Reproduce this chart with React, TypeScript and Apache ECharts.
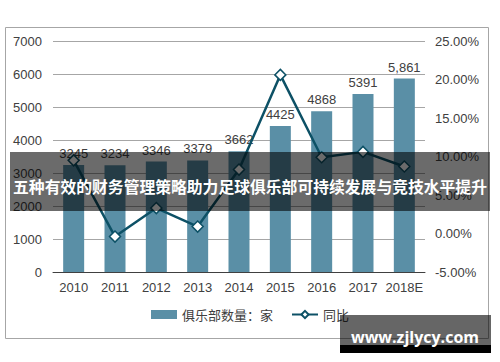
import React, { useEffect, useRef } from "react";
import * as echarts from "echarts";

const categories = ["2010", "2011", "2012", "2013", "2014", "2015", "2016", "2017", "2018E"];
const clubCounts = [3245, 3234, 3346, 3379, 3662, 4425, 4868, 5391, 5861];
const countLabels = ["3245", "3234", "3346", "3379", "3662", "4425", "4868", "5391", "5,861"];
const growthPct = [9.5, -0.4, 3.3, 0.9, 8.3, 20.6, 9.9, 10.6, 8.7];
const barName = "俱乐部数量：家";
const lineName = "同比";
const bannerText = "五种有效的财务管理策略助力足球俱乐部可持续发展与竞技水平提升";
const watermark = "www.zjlycy.com";

const latin = "'Liberation Sans', Arial, 'Noto Sans CJK SC', sans-serif";
const cjk = "'Noto Sans CJK SC', 'Liberation Sans', sans-serif";

export default function App() {
  const ref = useRef<HTMLDivElement>(null);
  useEffect(() => {
    if (!ref.current) return;
    const chart = echarts.init(ref.current, null, { renderer: "svg" });
    chart.setOption({
      animation: false,
      backgroundColor: "#ffffff",
      grid: { left: 53, right: 75, top: 41, bottom: 90 },
      legend: {
        bottom: 36,
        left: "center",
        itemWidth: 26,
        itemHeight: 9,
        itemGap: 18,
        textStyle: { fontFamily: cjk, fontSize: 13, color: "#404040" },
        data: [
          { name: barName, icon: "rect" },
          { name: lineName },
        ],
      },
      xAxis: {
        type: "category",
        data: categories,
        axisLine: { lineStyle: { color: "#404040", width: 1 } },
        axisTick: { show: false },
        axisLabel: { fontFamily: latin, fontSize: 13, color: "#404040", margin: 9, interval: 0 },
      },
      yAxis: [
        {
          type: "value",
          min: 0,
          max: 7000,
          interval: 1000,
          axisLine: { show: false },
          axisTick: { show: false },
          splitLine: { lineStyle: { color: "#a6a6a6", width: 1 } },
          axisLabel: {
            fontFamily: latin,
            fontSize: 13,
            color: "#404040",
            margin: 11,
            formatter: (v: number) => String(v),
          },
        },
        {
          type: "value",
          min: -5,
          max: 25,
          interval: 5,
          axisLine: { show: false },
          axisTick: { show: false },
          splitLine: { show: false },
          axisLabel: {
            fontFamily: latin,
            fontSize: 13,
            color: "#404040",
            margin: 10,
            formatter: (v: number) => v.toFixed(2) + "%",
          },
        },
      ],
      series: [
        {
          name: barName,
          type: "bar",
          data: clubCounts,
          barWidth: 21,
          itemStyle: { color: "#5a8fa6" },
          label: {
            show: true,
            position: "top",
            distance: 5,
            fontFamily: latin,
            fontSize: 13,
            color: "#404040",
            formatter: (p: any) => countLabels[p.dataIndex],
          },
          z: 2,
        },
        {
          name: lineName,
          type: "line",
          yAxisIndex: 1,
          data: growthPct,
          symbol: "diamond",
          symbolSize: 11,
          showAllSymbol: true,
          lineStyle: { color: "#0d5166", width: 2.5 },
          itemStyle: { color: "#ffffff", borderColor: "#0d5166", borderWidth: 1.5 },
          z: 3,
        },
      ],
      graphic: [
        {
          type: "rect",
          shape: { x: 5.5, y: 27.5, width: 483, height: 311 },
          style: { fill: "none", stroke: "#a6a6a6", lineWidth: 1 },
          silent: true,
          z: 1,
        },
        {
          type: "rect",
          shape: { x: 10, y: 152, width: 480, height: 59 },
          style: { fill: "rgba(0,0,0,0.58)" },
          silent: true,
          z: 100,
        },
        {
          type: "text",
          x: 250,
          y: 186,
          style: {
            text: bannerText,
            fill: "#ffffff",
            fontFamily: cjk,
            fontWeight: "bold",
            fontSize: 15.8,
            align: "center",
            verticalAlign: "middle",
          },
          silent: true,
          z: 101,
        },
        {
          type: "rect",
          shape: { x: 340, y: 315, width: 151, height: 30 },
          style: { fill: "rgba(0,0,0,0.6)" },
          silent: true,
          z: 100,
        },
        {
          type: "rect",
          shape: { x: 340, y: 345, width: 151, height: 8 },
          style: { fill: "#000000" },
          silent: true,
          z: 100,
        },
        {
          type: "text",
          x: 415,
          y: 337,
          style: {
            text: watermark,
            fill: "#ffffff",
            fontFamily: "'Open Sans', 'Noto Sans', sans-serif",
            fontWeight: "bold",
            fontSize: 16,
            align: "center",
            verticalAlign: "middle",
          },
          silent: true,
          z: 101,
        },
      ],
    });
    return () => chart.dispose();
  }, []);
  return (
    <div
      ref={ref}
      style={{ position: "fixed", left: 0, top: 0, width: 500, height: 362 }}
    />
  );
}
